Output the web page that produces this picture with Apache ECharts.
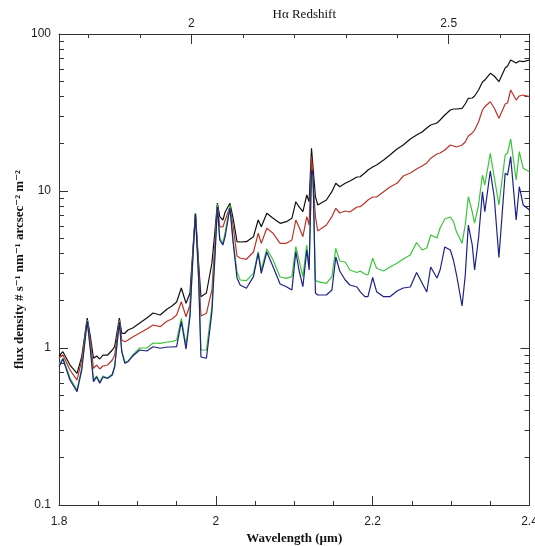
<!DOCTYPE html>
<html><head><meta charset="utf-8">
<script src="https://cdn.jsdelivr.net/npm/echarts@6/dist/echarts.min.js"></script>
<style>html,body{margin:0;padding:0;background:#fff}#c{width:535px;height:546px}</style>
</head><body><div id="c"></div>
<script>
// Wavelength (micron)
const wavelength = [
1.800,1.805,1.814,1.823,1.829,1.836,1.840,1.844,1.848,1.852,
1.856,1.862,1.868,1.871,1.877,1.880,1.884,1.888,1.894,1.903,
1.912,1.920,1.929,1.938,1.944,1.950,1.956,1.962,1.967,1.971,
1.974,1.978,1.981,1.988,1.995,1.999,2.002,2.005,2.009,2.012,
2.018,2.022,2.027,2.031,2.039,2.048,2.054,2.058,2.065,2.073,
2.082,2.090,2.097,2.102,2.106,2.111,2.116,2.119,2.122,2.124,
2.127,2.130,2.141,2.148,2.153,2.158,2.165,2.171,2.180,2.184,
2.190,2.194,2.200,2.205,2.214,2.222,2.231,2.239,2.248,2.256,
2.263,2.269,2.274,2.282,2.286,2.292,2.299,2.303,2.307,2.314,
2.318,2.322,2.327,2.330,2.335,2.340,2.343,2.350,2.355,2.361,
2.369,2.372,2.376,2.383,2.387,2.392,2.400];
const fluxBlack = [
0.889,0.947,0.779,0.690,0.880,1.553,1.180,0.860,0.889,0.851,
0.902,0.902,0.971,1.019,1.553,1.241,1.241,1.302,1.341,1.443,
1.553,1.671,1.623,1.772,1.852,1.963,2.411,1.926,2.240,4.418,
7.242,3.478,2.122,2.240,3.478,5.643,8.386,6.860,6.536,7.381,
8.350,6.730,4.754,4.733,4.754,5.116,6.536,5.925,7.211,6.701,
6.227,6.376,6.701,8.547,7.943,7.381,9.430,8.547,18.71,19.15,
9.198,8.143,8.763,9.897,11.20,10.65,11.20,11.58,12.28,12.32,
13.02,13.61,14.22,14.64,15.76,16.96,18.51,19.63,21.44,22.74,
23.76,25.19,26.33,27.11,28.33,30.49,32.80,33.29,33.29,33.64,
35.83,38.94,39.12,40.29,43.98,49.47,50.93,56.20,54.01,49.69,
60.73,62.55,68.31,65.37,67.30,66.63,68.31];
const fluxRed = [
0.864,0.902,0.724,0.625,0.839,1.508,1.108,0.742,0.779,0.735,
0.768,0.779,0.839,0.902,1.508,1.124,1.097,1.124,1.175,1.246,
1.321,1.401,1.367,1.486,1.530,1.623,1.972,1.582,1.878,4.209,
7.033,3.232,1.599,1.663,2.341,4.874,8.143,5.925,5.897,6.536,
7.943,5.985,3.855,3.744,3.673,4.088,5.378,4.644,5.786,5.378,
4.644,4.644,4.874,6.536,5.925,5.116,6.860,6.072,16.54,16.23,
6.860,5.562,6.072,6.860,7.758,7.242,7.457,7.349,7.908,7.943,
8.386,8.763,9.159,9.159,9.900,10.60,11.20,12.46,13.02,13.81,
14.43,15.08,16.16,17.21,17.46,18.24,19.63,19.35,19.07,19.63,
20.51,22.40,23.41,24.46,27.51,32.80,34.43,37.05,33.79,29.04,
35.83,36.35,43.98,37.98,40.29,40.89,39.87];
const fluxGreen = [
0.779,0.864,0.644,0.540,0.746,1.508,1.000,0.625,0.663,0.607,
0.663,0.644,0.683,0.768,1.486,0.957,0.814,0.826,0.902,1.000,
1.000,1.076,1.071,1.092,1.097,1.124,1.546,1.045,1.671,4.088,
7.242,2.917,0.971,0.971,1.833,4.209,8.264,5.019,4.644,5.481,
8.143,4.874,3.049,2.711,2.683,2.991,4.105,3.139,4.271,3.635,
2.833,2.779,2.846,4.418,3.635,2.846,4.529,3.295,12.96,12.10,
2.711,2.644,2.583,2.846,4.315,3.582,3.530,3.139,3.026,3.094,
2.960,2.917,3.728,3.218,3.094,3.281,3.463,3.690,3.911,4.699,
4.209,4.335,5.245,5.019,5.812,6.633,6.830,6.376,5.481,4.644,
6.072,9.198,7.349,6.254,8.143,12.64,10.92,17.39,12.28,8.143,
16.96,17.46,21.50,11.75,17.80,13.95,13.27];
const fluxBlue = [
0.757,0.851,0.625,0.527,0.724,1.486,0.971,0.610,0.654,0.596,
0.654,0.641,0.673,0.760,1.464,0.947,0.799,0.818,0.889,0.971,
0.957,1.019,0.996,1.015,1.015,1.019,1.471,0.985,1.575,4.028,
7.137,2.791,0.876,0.860,1.696,3.911,7.943,4.874,4.529,5.169,
7.794,4.733,2.791,2.519,2.401,2.846,4.010,2.991,4.088,3.295,
2.556,2.457,2.341,4.105,3.139,2.457,4.209,3.139,13.61,12.64,
2.240,2.176,2.176,2.341,3.798,3.094,2.711,2.519,2.446,2.284,
2.122,2.122,2.812,2.284,2.122,2.122,2.307,2.411,2.446,3.026,
2.594,2.274,3.281,2.791,3.139,4.399,4.209,3.635,2.917,1.852,
2.874,6.072,4.529,3.139,5.019,9.897,7.381,13.41,9.159,3.770,
12.96,12.64,16.54,6.536,10.65,8.143,7.568];

const yMinorTicks = [0.2,0.3,0.4,0.5,0.6,0.7,0.8,0.9,2,3,4,5,6,7,8,9,20,30,40,50,60,70,80,90];
const zMajorTicks = [2, 2.5];
const zMinorTicks = [1.8, 1.9, 2.1, 2.2, 2.3, 2.4, 2.6];
const HALPHA = 0.65628; // micron

const zMin = 1.8 / HALPHA - 1;
const zMax = 2.4 / HALPHA - 1;

const axisColor = '#333';
const lbl = {fontFamily: 'Liberation Sans, Arial, sans-serif', fontSize: 12, color: '#222'};
const titleFont = {fontFamily: 'Liberation Serif, DejaVu Serif, serif', fontWeight: 'bold', fontSize: 13, color: '#111'};

const chart = echarts.init(document.getElementById('c'), null, {renderer: 'canvas'});

function mk(vals) { return wavelength.map((x, i) => [x, vals[i]]); }
function ser(name, vals, color) {
  return {name, type: 'line', data: mk(vals), xAxisIndex: 0, yAxisIndex: 0,
    showSymbol: false, symbol: 'none', lineStyle: {color, width: 1.2}, itemStyle: {color}, z: 3};
}

const off = {show: false};
chart.setOption({
  animation: false,
  backgroundColor: '#fff',
  grid: {left: 59, right: 5.5, top: 34, bottom: 41, containLabel: false, outerBoundsMode: 'none'},
  xAxis: [
    {type: 'value', position: 'bottom', min: 1.8, max: 2.4, interval: 0.2,
     axisLine: {show: true, onZero: false, lineStyle: {color: axisColor, width: 1}},
     axisTick: {show: true, inside: true, length: 9, lineStyle: {color: axisColor}},
     minorTick: {show: true, splitNumber: 4, length: 4, lineStyle: {color: axisColor}},
     axisLabel: Object.assign({margin: 11, showMinLabel: true, showMaxLabel: true,
       formatter: v => String(+v.toFixed(2))}, lbl),
     splitLine: off, minorSplitLine: off,
     name: 'Wavelength (µm)', nameLocation: 'middle', nameGap: 27, nameMoveOverlap: false,
     nameTextStyle: titleFont},
    {type: 'value', position: 'top', min: zMin, max: zMax,
     axisLine: {show: true, onZero: false, lineStyle: {color: axisColor, width: 1}},
     axisTick: {show: true, inside: true, length: 10, customValues: zMajorTicks, lineStyle: {color: axisColor}},
     axisLabel: Object.assign({margin: 4, customValues: zMajorTicks, formatter: v => String(+(+v).toFixed(2))}, lbl),
     splitLine: off,
     name: 'Hα Redshift', nameLocation: 'middle', nameGap: 13, nameMoveOverlap: false,
     nameTextStyle: {fontFamily: 'Liberation Serif, DejaVu Serif, serif', fontSize: 13, color: '#111', padding: [0, 0, 0, 20]}},
    {type: 'value', position: 'top', min: zMin, max: zMax,
     axisLine: {show: false, onZero: false},
     axisTick: {show: true, inside: true, length: 4, customValues: zMinorTicks, lineStyle: {color: axisColor}},
     axisLabel: off, splitLine: off}
  ],
  yAxis: [
    {type: 'log', logBase: 10, min: 0.1, max: 100, position: 'left',
     axisLine: {show: true, onZero: false, lineStyle: {color: axisColor, width: 1}},
     axisTick: {show: true, inside: true, length: 9, lineStyle: {color: axisColor}},
     axisLabel: Object.assign({margin: 8, showMinLabel: true, showMaxLabel: true}, lbl),
     splitLine: off,
     name: 'flux density # s⁻¹ nm⁻¹ arcsec⁻² m⁻²', nameLocation: 'middle', nameGap: 33, nameMoveOverlap: false,
     nameTextStyle: titleFont},
    {type: 'log', logBase: 10, min: 0.1, max: 100, position: 'right',
     axisLine: {show: true, onZero: false, lineStyle: {color: axisColor, width: 1}},
     axisTick: {show: true, inside: true, length: 9, lineStyle: {color: axisColor}},
     axisLabel: off, splitLine: off},
    {type: 'value', min: -1, max: 2, position: 'left',
     axisLine: {show: false, onZero: false},
     axisTick: {show: true, inside: true, length: 5, customValues: yMinorTicks.map(Math.log10), lineStyle: {color: axisColor}},
     axisLabel: off, splitLine: off},
    {type: 'value', min: -1, max: 2, position: 'right',
     axisLine: {show: false, onZero: false},
     axisTick: {show: true, inside: true, length: 5, customValues: yMinorTicks.map(Math.log10), lineStyle: {color: axisColor}},
     axisLabel: off, splitLine: off}
  ],
  series: [
    ser('black', fluxBlack, '#111111'),
    ser('red', fluxRed, '#b8352c'),
    ser('green', fluxGreen, '#3cc43c'),
    ser('blue', fluxBlue, '#1e2088')
  ]
});
</script></body></html>
